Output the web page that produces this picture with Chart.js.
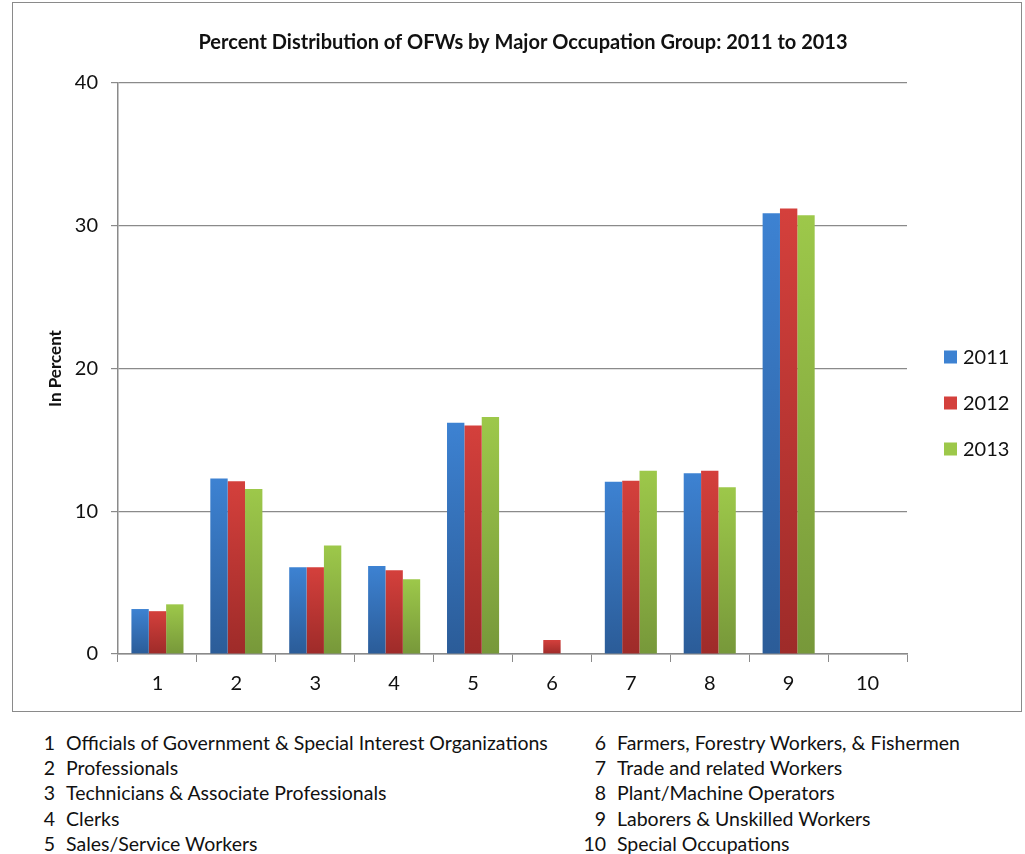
<!DOCTYPE html>
<html>
<head>
<meta charset="utf-8">
<script src="https://cdn.jsdelivr.net/npm/chart.js@4"></script>
<style>
  body { margin: 0; background: #fff; font-family: Lato, 'Open Sans', sans-serif; }
  #box { position: absolute; left: 12px; top: 2px; width: 1008px; height: 708px; border: 1px solid #8a8a8a; }
  #notes { position: absolute; left: 0; top: 730px; width: 1025px; font-size: 19.5px; color: #111; }
  .row { position: absolute; height: 25px; line-height: 25px; white-space: nowrap; }
  .num { display: inline-block; text-align: right; }
</style>
</head>
<body>
<div id="box"><canvas id="mychart" width="1008" height="708"></canvas></div>
<div id="notes"></div>
<script>
const categories = ['1', '2', '3', '4', '5', '6', '7', '8', '9', '10']
const occupations = [
    'Officials of Government & Special Interest Organizations',
    'Professionals',
    'Technicians & Associate Professionals',
    'Clerks',
    'Sales/Service Workers',
    'Farmers, Forestry Workers, & Fishermen',
    'Trade and related Workers',
    'Plant/Machine Operators',
    'Laborers & Unskilled Workers',
    'Special Occupations'
]
const years = ['2011', '2012', '2013']
const values2011 = [3.15, 12.3, 6.07, 6.16, 16.2, 0, 12.07, 12.66, 30.87, 0]
const values2012 = [3.0, 12.1, 6.07, 5.86, 16.0, 0.98, 12.14, 12.84, 31.2, 0]
const values2013 = [3.48, 11.55, 7.6, 5.23, 16.6, 0, 12.84, 11.68, 30.73, 0]
const yTicks = [0, 10, 20, 30, 40]

// top / bottom shades for the bar gradients
const shades = [
    ['#3d82d2', '#2b5c98'],
    ['#d4403c', '#9e2b29'],
    ['#9dc84a', '#77983a']
]

// footnote list under the chart
const notes = document.getElementById('notes')
occupations.forEach((name, i) => {
    const left = i < 5
    const row = document.createElement('div')
    row.className = 'row'
    row.style.top = ((i % 5) * 25.2) + 'px'
    row.style.left = (left ? 42 : 580) + 'px'
    row.innerHTML = '<span class="num" style="width:' + (left ? 13 : 26) + 'px">' + categories[i] +
        '</span><span style="margin-left:' + (left ? 11 : 11) + 'px"></span>'
    row.lastChild.textContent = name
    notes.appendChild(row)
})

function barGradient(idx) {
    return (context) => {
        const chart = context.chart
        const y = chart.scales.y
        if (!chart.chartArea || !y || context.type !== 'data') return shades[idx][0]
        const top = y.getPixelForValue(context.raw || 0)
        const bottom = y.getPixelForValue(0)
        if (bottom - top < 1) return shades[idx][0]
        const g = chart.ctx.createLinearGradient(0, top, 0, bottom)
        g.addColorStop(0, shades[idx][0])
        g.addColorStop(1, shades[idx][1])
        return g
    }
}

const customLegend = {
    id: 'customLegend',
    afterDraw: (chart) => {
        const c = chart.ctx
        c.save()
        c.font = '20px Lato, sans-serif'
        c.textBaseline = 'middle'
        chart.data.datasets.forEach((ds, i) => {
            const cy = 354 + i * 46
            c.fillStyle = shades[i][0]
            c.fillRect(931, cy - 6.5, 13, 13)
            c.fillStyle = '#111'
            c.fillText(ds.label, 950, cy + 1)
        })
        c.restore()
    }
}

const ctx = document.getElementById('mychart')
const seriesValues = [values2011, values2012, values2013]

new Chart(ctx, {
    type: 'bar',
    data: {
        labels: categories,
        datasets: years.map((yr, i) => ({
            label: yr,
            data: seriesValues[i],
            backgroundColor: barGradient(i),
            borderWidth: 0,
            barPercentage: 1.0,
            categoryPercentage: 0.66
        }))
    },
    options: {
        responsive: false,
        animation: false,
        layout: { padding: { left: 12, right: 0, top: 0, bottom: 0 } },
        scales: {
            x: {
                grid: { display: true, drawOnChartArea: false, offset: true, color: '#8a8a8a', tickLength: 8 },
                border: { color: '#8a8a8a', width: 1.5 },
                ticks: { color: '#111', font: { family: 'Lato', size: 20 }, padding: 10 },
                afterFit: (scale) => { scale.height = 57 }
            },
            y: {
                min: 0,
                max: 40,
                afterBuildTicks: (scale) => { scale.ticks = yTicks.map(v => ({ value: v })) },
                grid: { color: '#8a8a8a', lineWidth: 1.2, tickLength: 7 },
                border: { color: '#8a8a8a', width: 1.5 },
                ticks: { color: '#111', font: { family: 'Lato', size: 20 }, padding: 13 },
                title: {
                    display: true,
                    text: 'In Percent',
                    color: '#111',
                    font: { family: 'Lato', size: 17, weight: 'bold' },
                    padding: { top: 20, bottom: 0 }
                },
                afterFit: (scale) => { scale.width = 93 }
            },
            // empty right-hand box that holds the legend space
            legendSpace: {
                type: 'linear',
                position: 'right',
                grid: { display: false },
                border: { display: false },
                ticks: { display: false },
                afterFit: (scale) => { scale.width = 114 }
            }
        },
        plugins: {
            legend: { display: false },
            tooltip: { enabled: false },
            title: {
                display: true,
                text: 'Percent Distribution of OFWs by Major Occupation Group: 2011 to 2013',
                color: '#111',
                font: { family: 'Lato', size: 20, weight: 'bold' },
                padding: { top: 28, bottom: 28 }
            }
        }
    },
    plugins: [customLegend]
});
</script>
</body>
</html>
